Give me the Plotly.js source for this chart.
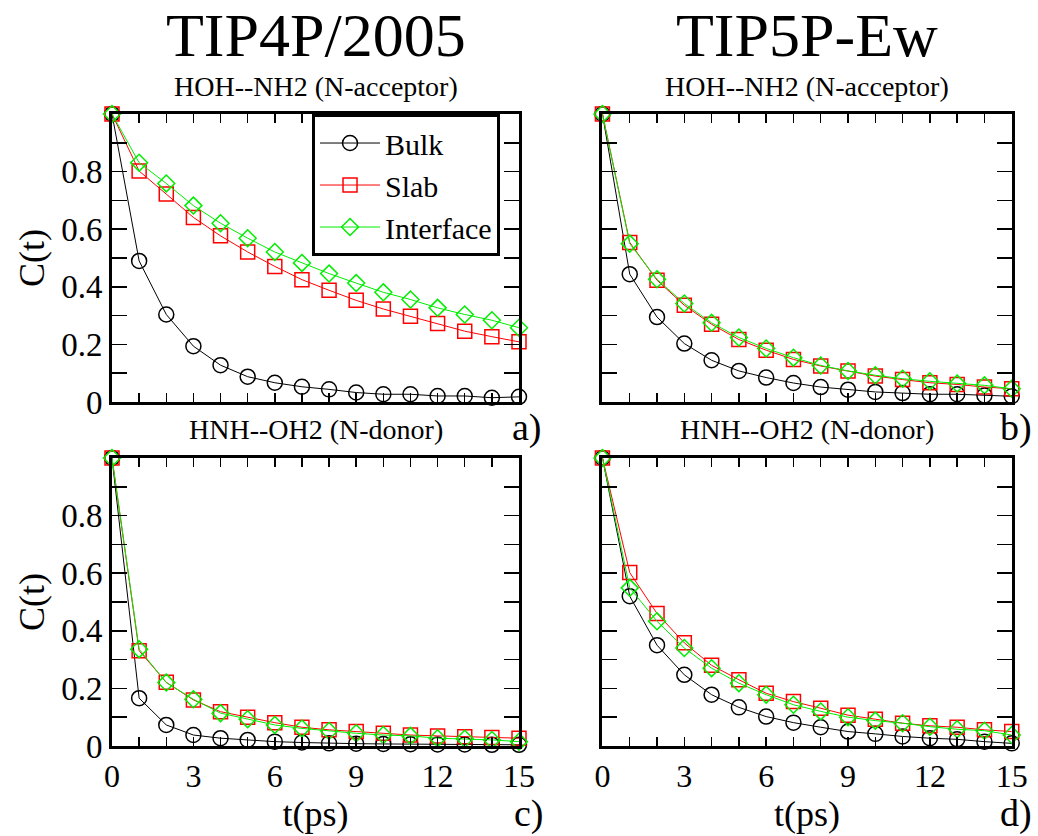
<!DOCTYPE html>
<html>
<head>
<meta charset="utf-8">
<script src="https://cdn.plot.ly/plotly-3.0.1.min.js"></script>
<style>html,body{margin:0;padding:0;background:#fff;}#chart{width:1038px;height:836px;}</style>
</head>
<body>
<div id="chart"></div>
<script>
// time axis (ps)
const T = [0, 1, 2, 3, 4, 5, 6, 7, 8, 9, 10, 11, 12, 13, 14, 15];

// a) TIP4P/2005, HOH--NH2 (N-acceptor)
const bulkA  = [1, 0.490, 0.304, 0.194, 0.128, 0.088, 0.067, 0.053, 0.044, 0.033, 0.027, 0.027, 0.021, 0.021, 0.015, 0.018];
const slabA  = [1, 0.802, 0.722, 0.641, 0.577, 0.521, 0.471, 0.425, 0.388, 0.353, 0.323, 0.298, 0.273, 0.246, 0.227, 0.209];
const ifaceA = [1, 0.831, 0.759, 0.682, 0.621, 0.569, 0.521, 0.483, 0.446, 0.413, 0.381, 0.356, 0.327, 0.304, 0.284, 0.258];

// b) TIP5P-Ew, HOH--NH2 (N-acceptor)
const bulkB  = [1, 0.444, 0.295, 0.203, 0.145, 0.108, 0.085, 0.066, 0.052, 0.043, 0.035, 0.031, 0.027, 0.027, 0.023, 0.020];
const slabB  = [1, 0.554, 0.423, 0.336, 0.270, 0.217, 0.180, 0.148, 0.125, 0.108, 0.090, 0.078, 0.067, 0.061, 0.052, 0.046];
const ifaceB = [1, 0.550, 0.426, 0.342, 0.275, 0.224, 0.186, 0.154, 0.127, 0.108, 0.093, 0.081, 0.072, 0.064, 0.058, 0.046];

// c) TIP4P/2005, HNH--OH2 (N-donor)
const bulkC  = [1, 0.166, 0.073, 0.038, 0.027, 0.021, 0.015, 0.012, 0.009, 0.008, 0.007, 0.006, 0.005, 0.005, 0.004, 0.004];
const slabC  = [1, 0.331, 0.221, 0.160, 0.119, 0.100, 0.081, 0.065, 0.056, 0.050, 0.044, 0.038, 0.035, 0.032, 0.029, 0.027];
const ifaceC = [1, 0.336, 0.220, 0.162, 0.114, 0.093, 0.073, 0.061, 0.052, 0.044, 0.038, 0.035, 0.027, 0.025, 0.021, 0.015];

// d) TIP5P-Ew, HNH--OH2 (N-donor)
const bulkD  = [1, 0.520, 0.350, 0.247, 0.178, 0.134, 0.102, 0.081, 0.065, 0.050, 0.042, 0.033, 0.027, 0.023, 0.015, 0.009];
const slabD  = [1, 0.602, 0.460, 0.358, 0.280, 0.230, 0.183, 0.154, 0.131, 0.107, 0.093, 0.079, 0.070, 0.065, 0.056, 0.050];
const ifaceD = [1, 0.549, 0.433, 0.340, 0.270, 0.218, 0.178, 0.143, 0.120, 0.100, 0.088, 0.079, 0.067, 0.058, 0.053, 0.038];

const seriesNames = ['Bulk', 'Slab', 'Interface'];
const modelTitles = ['TIP4P/2005', 'TIP5P-Ew'];
const rowTitles = ['HOH--NH2 (N-acceptor)', 'HNH--OH2 (N-donor)'];
const panelLetters = ['a)', 'b)', 'c)', 'd)'];
const xTicks = [0, 3, 6, 9, 12, 15];
const yTicks = [0, 0.2, 0.4, 0.6, 0.8];
const yTickText = ['0', '0.2', '0.4', '0.6', '0.8'];

const FONT = '"Liberation Serif", "Times New Roman", Times, serif';
const styles = [
  {color: '#000000', symbol: 'circle-open', size: 15},
  {color: '#ff0000', symbol: 'square-open', size: 14},
  {color: '#00ee00', symbol: 'diamond-open', size: 13}
];

const panels = [
  {data: [bulkA, slabA, ifaceA], xa: 'x',  ya: 'y'},
  {data: [bulkB, slabB, ifaceB], xa: 'x2', ya: 'y2'},
  {data: [bulkC, slabC, ifaceC], xa: 'x3', ya: 'y3'},
  {data: [bulkD, slabD, ifaceD], xa: 'x4', ya: 'y4'}
];

const traces = [];
panels.forEach((p, pi) => {
  p.data.forEach((vals, si) => {
    const s = styles[si];
    traces.push({
      type: 'scatter', mode: 'lines+markers',
      x: T, y: vals, xaxis: p.xa, yaxis: p.ya,
      name: seriesNames[si], showlegend: pi === 0,
      cliponaxis: false,
      line: {color: s.color, width: 1},
      marker: {symbol: s.symbol, size: s.size, color: s.color, line: {color: s.color, width: 1.5}}
    });
  });
});

function xax(domain, anchor, labels) {
  return {
    domain: domain, anchor: anchor, range: [0, 15],
    tickmode: 'array', tickvals: xTicks, ticktext: xTicks.map(String),
    showticklabels: labels, ticks: 'inside', ticklen: 9, tickwidth: 1.5, tickcolor: '#000',
    minor: {ticks: 'inside', tickmode: 'linear', tick0: 0, dtick: 1, ticklen: 9, tickwidth: 1.5, tickcolor: '#000', showgrid: false},
    showline: true, linewidth: 3, linecolor: '#000', mirror: 'allticks',
    showgrid: false, zeroline: false,
    tickfont: {family: FONT, size: 32, color: '#000'},
    title: labels ? {text: 't(ps)', font: {family: FONT, size: 36, color: '#000'}, standoff: 2} : {text: ''}
  };
}
function yax(domain, anchor, labels) {
  return {
    domain: domain, anchor: anchor, range: [0, 1],
    tickmode: 'array', tickvals: yTicks, ticktext: yTickText,
    showticklabels: labels, ticks: 'inside', ticklen: 15, tickwidth: 1.5, tickcolor: '#000',
    minor: {ticks: 'inside', tickmode: 'linear', tick0: 0, dtick: 0.1, ticklen: 15, tickwidth: 1.5, tickcolor: '#000', showgrid: false},
    showline: true, linewidth: 3, linecolor: '#000', mirror: 'allticks',
    showgrid: false, zeroline: false,
    tickfont: {family: FONT, size: 33, color: '#000'},
    title: labels ? {text: 'C(t)', font: {family: FONT, size: 36, color: '#000'}, standoff: 6} : {text: ''}
  };
}

const XL = [0.1079, 0.5], XR = [0.5804, 0.9747];
const YT = [0.5191, 0.8636], YB = [0.1077, 0.4522];
const CX = [0.3040, 0.7776];

const annotations = [];
// column titles (water model)
modelTitles.forEach((t, i) => {
  annotations.push({text: t, x: CX[i], y: 1.0, xref: 'paper', yref: 'paper',
    xanchor: 'center', yanchor: 'top', borderpad: 0, showarrow: false,
    font: {family: FONT, size: 62, color: '#000'}});
});
// row subtitles
CX.forEach(cx => {
  annotations.push({text: rowTitles[0], x: cx, y: 0.9165, xref: 'paper', yref: 'paper',
    xanchor: 'center', yanchor: 'top', borderpad: 0, showarrow: false,
    font: {family: FONT, size: 28, color: '#000'}});
  annotations.push({text: rowTitles[1], x: cx, y: 0.486, xref: 'paper', yref: 'paper',
    xanchor: 'center', yanchor: 'middle', borderpad: 0, showarrow: false,
    font: {family: FONT, size: 28, color: '#000'}});
});
// panel letters
[[0.508, 0.489, 'middle'], [0.979, 0.489, 'middle'], [0.510, 0.0, 'bottom'], [0.979, 0.0, 'bottom']].forEach((a, i) => {
  annotations.push({text: panelLetters[i], x: a[0], y: a[1], xref: 'paper', yref: 'paper',
    xanchor: 'center', yanchor: a[2], borderpad: 0, showarrow: false,
    font: {family: FONT, size: 38, color: '#000'}});
});

const layout = {
  width: 1038, height: 836, autosize: false,
  margin: {l: 0, r: 0, t: 0, b: 0},
  paper_bgcolor: '#fff', plot_bgcolor: '#fff',
  font: {family: FONT, color: '#000'},
  xaxis: xax(XL, 'y', false),
  yaxis: yax(YT, 'x', true),
  xaxis2: xax(XR, 'y2', false),
  yaxis2: yax(YT, 'x2', false),
  xaxis3: xax(XL, 'y3', true),
  yaxis3: yax(YB, 'x3', true),
  xaxis4: xax(XR, 'y4', true),
  yaxis4: yax(YB, 'x4', false),
  legend: {x: 0.3006, y: 0.8636, xanchor: 'left', yanchor: 'top', bgcolor: '#fff',
    bordercolor: '#000', borderwidth: 3, font: {family: FONT, size: 30, color: '#000'},
    itemwidth: 60, tracegroupgap: 0},
  annotations: annotations,
  showlegend: true
};

Plotly.newPlot('chart', traces, layout, {staticPlot: true, displayModeBar: false});
</script>
</body>
</html>
